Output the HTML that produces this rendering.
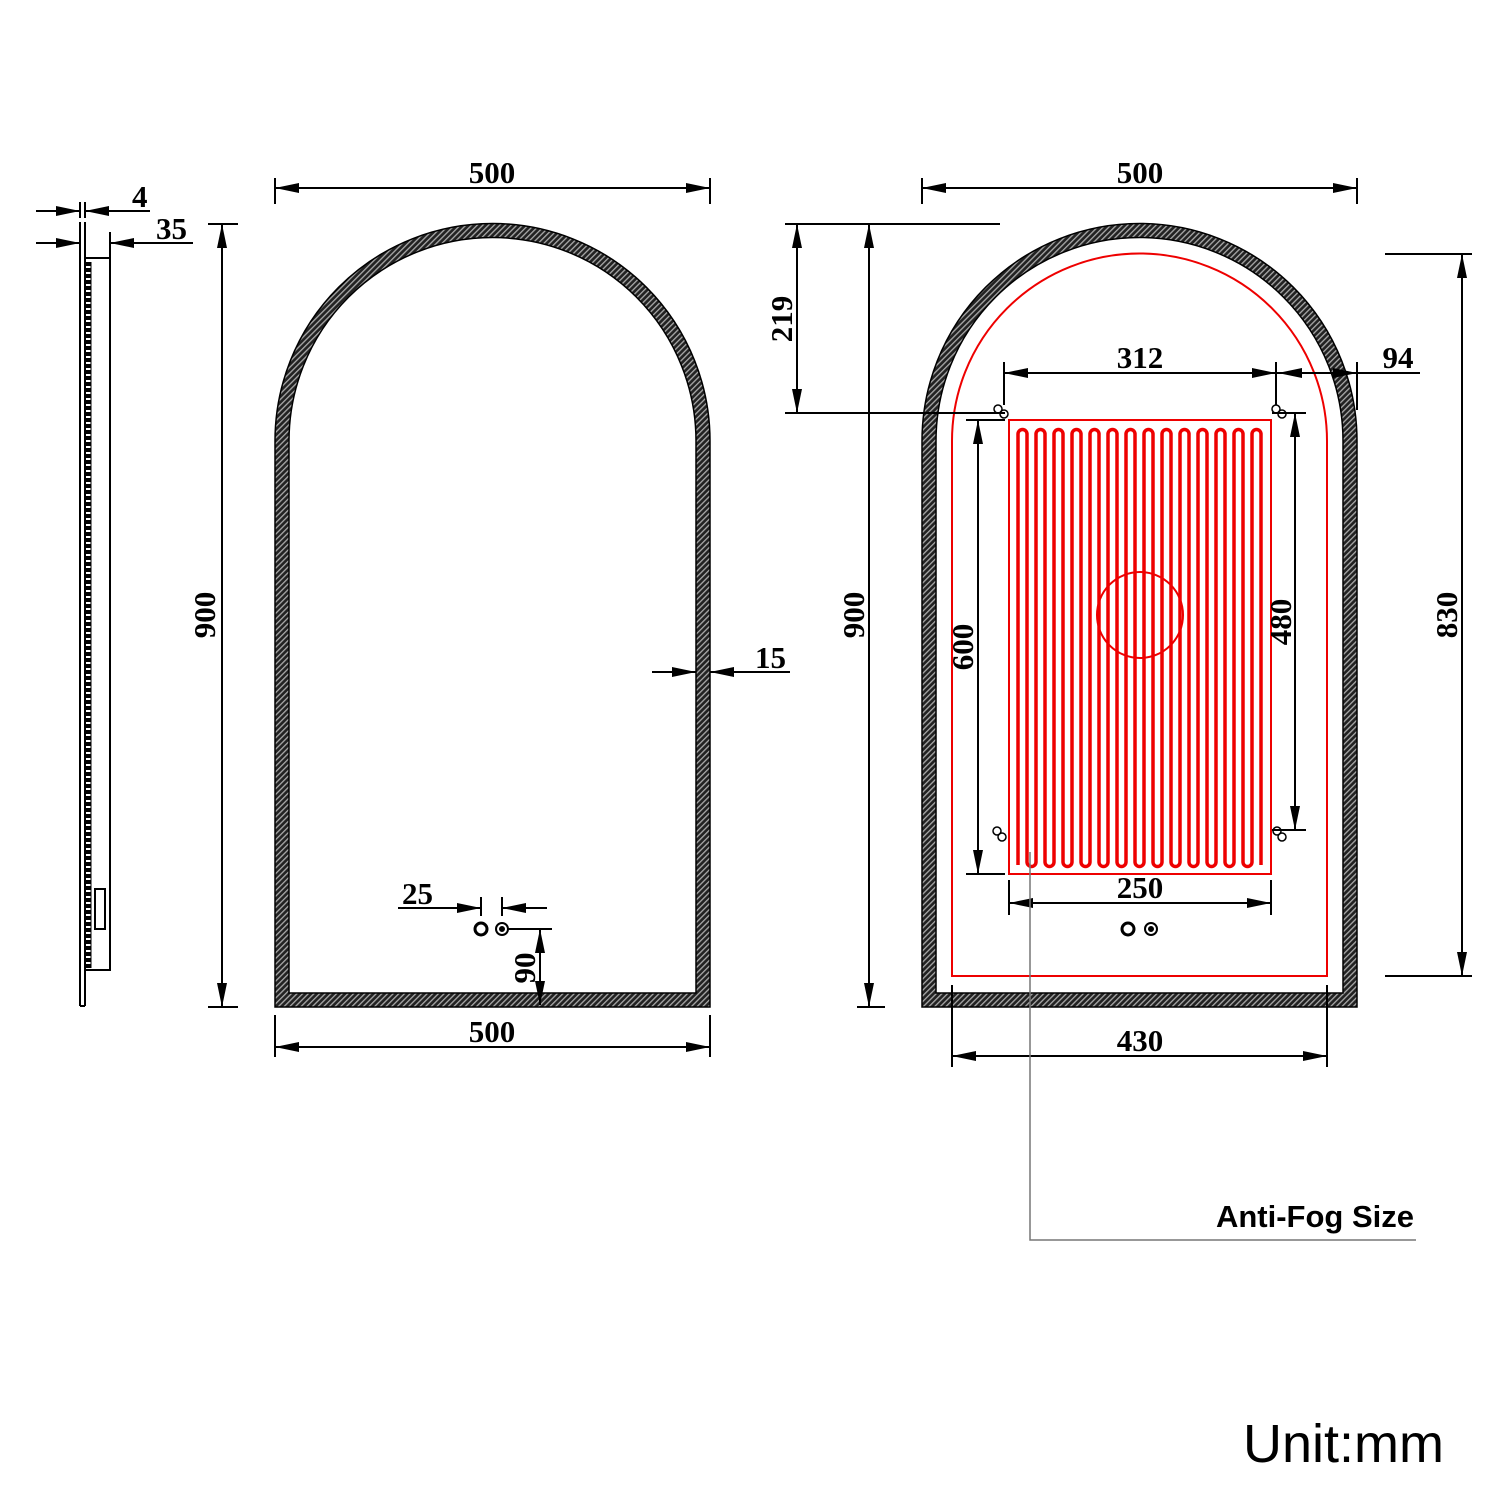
<!DOCTYPE html>
<html><head><meta charset="utf-8"><style>
html,body{margin:0;padding:0;background:#fff;}
svg{display:block}
.t{font-family:"Liberation Serif",serif;font-weight:bold;font-size:31px;fill:#000}
</style></head><body>
<svg width="1500" height="1500" viewBox="0 0 1500 1500" xmlns="http://www.w3.org/2000/svg">
<defs>
<marker id="a" viewBox="0 0 24 10" refX="24" refY="5" markerWidth="24" markerHeight="10" markerUnits="userSpaceOnUse" orient="auto-start-reverse">
<path d="M0,0 L24,5 L0,10 Z" fill="#000"/></marker>
<pattern id="h" width="4" height="4" patternUnits="userSpaceOnUse" patternTransform="rotate(45)">
<rect width="4" height="4" fill="#222"/><rect width="1.3" height="4" fill="#aaa"/></pattern>
</defs>
<g fill="none" stroke="#000" stroke-width="2">
<line x1="80" y1="222" x2="80" y2="1006"/><line x1="85" y1="222" x2="85" y2="1006"/>
<line x1="80" y1="1006" x2="85" y2="1006"/>
<rect x="85" y="258" width="25" height="712"/>
<line x1="88" y1="262" x2="88" y2="968" stroke-width="5" stroke-dasharray="4 2"/>
<line x1="91" y1="262" x2="91" y2="968" stroke-width="1"/>
<rect x="95" y="889" width="10" height="40" stroke-width="2"/>
<line x1="36" y1="211" x2="80" y2="211" marker-end="url(#a)"/>
<line x1="150" y1="211" x2="85" y2="211" marker-end="url(#a)"/>
<line x1="80" y1="202" x2="80" y2="218"/><line x1="85" y1="202" x2="85" y2="218"/>
<line x1="36" y1="243" x2="80" y2="243" marker-end="url(#a)"/>
<line x1="193" y1="243" x2="110" y2="243" marker-end="url(#a)"/>
<line x1="110" y1="232" x2="110" y2="258"/>
</g>
<text class="t" x="132" y="207">4</text>
<text class="t" x="156" y="239">35</text>

<path d="M282 1000 V441 A210.5 210.5 0 0 1 703 441 V1000 Z" fill="none" stroke="url(#h)" stroke-width="14"/>
<path d="M275 1007 V441 A217.5 217.5 0 0 1 710 441 V1007 Z M289 993 V441 A203.5 203.5 0 0 1 696 441 V993 Z" fill="none" stroke="#000" stroke-width="1.5"/>
<g fill="none" stroke="#000" stroke-width="2">
<line x1="275" y1="178" x2="275" y2="204"/><line x1="710" y1="178" x2="710" y2="204"/>
<line x1="275" y1="188" x2="710" y2="188" marker-start="url(#a)" marker-end="url(#a)"/>
<line x1="208" y1="224" x2="238" y2="224"/><line x1="208" y1="1007" x2="238" y2="1007"/>
<line x1="222" y1="224" x2="222" y2="1007" marker-start="url(#a)" marker-end="url(#a)"/>
<line x1="652" y1="672" x2="696" y2="672" marker-end="url(#a)"/>
<line x1="790" y1="672" x2="710" y2="672" marker-end="url(#a)"/>
<line x1="275" y1="1015" x2="275" y2="1057"/><line x1="710" y1="1015" x2="710" y2="1057"/>
<line x1="275" y1="1047" x2="710" y2="1047" marker-start="url(#a)" marker-end="url(#a)"/>
<line x1="398" y1="908" x2="481" y2="908" marker-end="url(#a)"/>
<line x1="547" y1="908" x2="502" y2="908" marker-end="url(#a)"/>
<line x1="481" y1="897" x2="481" y2="916"/><line x1="502" y1="897" x2="502" y2="916"/>
<line x1="508" y1="929" x2="552" y2="929"/>
<line x1="540" y1="929" x2="540" y2="1005" marker-start="url(#a)" marker-end="url(#a)"/>
<circle cx="481" cy="929" r="6" stroke-width="3"/><circle cx="502" cy="929" r="6"/><circle cx="502" cy="929" r="2" fill="#000"/>
</g>
<text class="t" x="492" y="183" text-anchor="middle">500</text>
<text class="t" x="492" y="1042" text-anchor="middle">500</text>
<text class="t" x="755" y="668">15</text>
<text class="t" x="402" y="904">25</text>
<text class="t" transform="translate(215,615) rotate(-90)" text-anchor="middle">900</text>
<text class="t" transform="translate(535,968) rotate(-90)" text-anchor="middle">90</text>

<path d="M929 1000 V441 A210.5 210.5 0 0 1 1350 441 V1000 Z" fill="none" stroke="url(#h)" stroke-width="14"/>
<path d="M922 1007 V441 A217.5 217.5 0 0 1 1357 441 V1007 Z M936 993 V441 A203.5 203.5 0 0 1 1343 441 V993 Z" fill="none" stroke="#000" stroke-width="1.5"/>
<path d="M952 976 V441 A187.5 187.5 0 0 1 1327 441 V976 Z" fill="none" stroke="#e00" stroke-width="2"/>
<rect x="1009" y="420" width="262" height="454" fill="none" stroke="#e00" stroke-width="2"/>
<path d="M1018 865 V434 A4.5 4.5 0 0 1 1027 434 V862 A4.5 4.5 0 0 0 1036 862 V434 A4.5 4.5 0 0 1 1045 434 V862 A4.5 4.5 0 0 0 1054 862 V434 A4.5 4.5 0 0 1 1063 434 V862 A4.5 4.5 0 0 0 1072 862 V434 A4.5 4.5 0 0 1 1081 434 V862 A4.5 4.5 0 0 0 1090 862 V434 A4.5 4.5 0 0 1 1099 434 V862 A4.5 4.5 0 0 0 1108 862 V434 A4.5 4.5 0 0 1 1117 434 V862 A4.5 4.5 0 0 0 1126 862 V434 A4.5 4.5 0 0 1 1135 434 V862 A4.5 4.5 0 0 0 1144 862 V434 A4.5 4.5 0 0 1 1153 434 V862 A4.5 4.5 0 0 0 1162 862 V434 A4.5 4.5 0 0 1 1171 434 V862 A4.5 4.5 0 0 0 1180 862 V434 A4.5 4.5 0 0 1 1189 434 V862 A4.5 4.5 0 0 0 1198 862 V434 A4.5 4.5 0 0 1 1207 434 V862 A4.5 4.5 0 0 0 1216 862 V434 A4.5 4.5 0 0 1 1225 434 V862 A4.5 4.5 0 0 0 1234 862 V434 A4.5 4.5 0 0 1 1243 434 V862 A4.5 4.5 0 0 0 1252 862 V434 A4.5 4.5 0 0 1 1261 434 V865" fill="none" stroke="#e00" stroke-width="3.5"/>
<circle cx="1140" cy="615" r="43" fill="none" stroke="#e00" stroke-width="2"/>
<g fill="none" stroke="#000" stroke-width="2">
<line x1="922" y1="178" x2="922" y2="204"/><line x1="1357" y1="178" x2="1357" y2="204"/>
<line x1="922" y1="188" x2="1357" y2="188" marker-start="url(#a)" marker-end="url(#a)"/>
<line x1="785" y1="224" x2="1000" y2="224"/><line x1="785" y1="413" x2="1005" y2="413"/>
<line x1="797" y1="224" x2="797" y2="413" marker-start="url(#a)" marker-end="url(#a)"/>
<line x1="857" y1="1007" x2="885" y2="1007"/>
<line x1="869" y1="224" x2="869" y2="1007" marker-start="url(#a)" marker-end="url(#a)"/>
<line x1="1004" y1="362" x2="1004" y2="405"/><line x1="1276" y1="362" x2="1276" y2="405"/>
<line x1="1004" y1="373" x2="1276" y2="373" marker-start="url(#a)" marker-end="url(#a)"/>
<line x1="1276" y1="373" x2="1420" y2="373"/>
<line x1="1300" y1="373" x2="1278" y2="373" marker-end="url(#a)"/>
<line x1="1330" y1="373" x2="1357" y2="373" marker-end="url(#a)"/>
<line x1="1357" y1="362" x2="1357" y2="410"/>
<line x1="1385" y1="254" x2="1472" y2="254"/><line x1="1385" y1="976" x2="1472" y2="976"/>
<line x1="1462" y1="254" x2="1462" y2="976" marker-start="url(#a)" marker-end="url(#a)"/>
<line x1="966" y1="420" x2="1005" y2="420"/><line x1="966" y1="874" x2="1005" y2="874"/>
<line x1="978" y1="420" x2="978" y2="874" marker-start="url(#a)" marker-end="url(#a)"/>
<line x1="1272" y1="413" x2="1306" y2="413"/><line x1="1272" y1="830" x2="1306" y2="830"/>
<line x1="1295" y1="413" x2="1295" y2="830" marker-start="url(#a)" marker-end="url(#a)"/>
<line x1="1009" y1="880" x2="1009" y2="915"/><line x1="1271" y1="880" x2="1271" y2="915"/>
<line x1="1009" y1="903" x2="1271" y2="903" marker-start="url(#a)" marker-end="url(#a)"/>
<line x1="952" y1="985" x2="952" y2="1067"/><line x1="1327" y1="985" x2="1327" y2="1067"/>
<line x1="952" y1="1056" x2="1327" y2="1056" marker-start="url(#a)" marker-end="url(#a)"/>
<circle cx="1128" cy="929" r="6" stroke-width="3"/><circle cx="1151" cy="929" r="6"/><circle cx="1151" cy="929" r="2" fill="#000"/>
<circle cx="998" cy="409" r="4" stroke-width="1.5"/><circle cx="1004" cy="414" r="4" stroke-width="1.5"/>
<circle cx="1276" cy="409" r="4" stroke-width="1.5"/><circle cx="1282" cy="414" r="4" stroke-width="1.5"/>
<circle cx="997" cy="831" r="4" stroke-width="1.5"/><circle cx="1002" cy="837" r="4" stroke-width="1.5"/>
<circle cx="1277" cy="831" r="4" stroke-width="1.5"/><circle cx="1282" cy="837" r="4" stroke-width="1.5"/>
</g>
<polyline points="1030,852 1030,1240 1416,1240" fill="none" stroke="#777" stroke-width="1.5"/>
<text class="t" x="1140" y="183" text-anchor="middle">500</text>
<text class="t" x="1140" y="368" text-anchor="middle">312</text>
<text class="t" x="1398" y="368" text-anchor="middle">94</text>
<text class="t" x="1140" y="898" text-anchor="middle">250</text>
<text class="t" x="1140" y="1051" text-anchor="middle">430</text>
<text class="t" transform="translate(792,319) rotate(-90)" text-anchor="middle">219</text>
<text class="t" transform="translate(864,615) rotate(-90)" text-anchor="middle">900</text>
<text class="t" transform="translate(973,647) rotate(-90)" text-anchor="middle">600</text>
<text class="t" transform="translate(1291,622) rotate(-90)" text-anchor="middle">480</text>
<text class="t" transform="translate(1457,615) rotate(-90)" text-anchor="middle">830</text>
<text x="1414" y="1227" text-anchor="end" style="font-family:'Liberation Sans',sans-serif;font-size:31px;font-weight:bold">Anti-Fog Size</text>
<text x="1444" y="1462" text-anchor="end" style="font-family:'Liberation Sans',sans-serif;font-size:54px">Unit:mm</text>
</svg>
</body></html>
